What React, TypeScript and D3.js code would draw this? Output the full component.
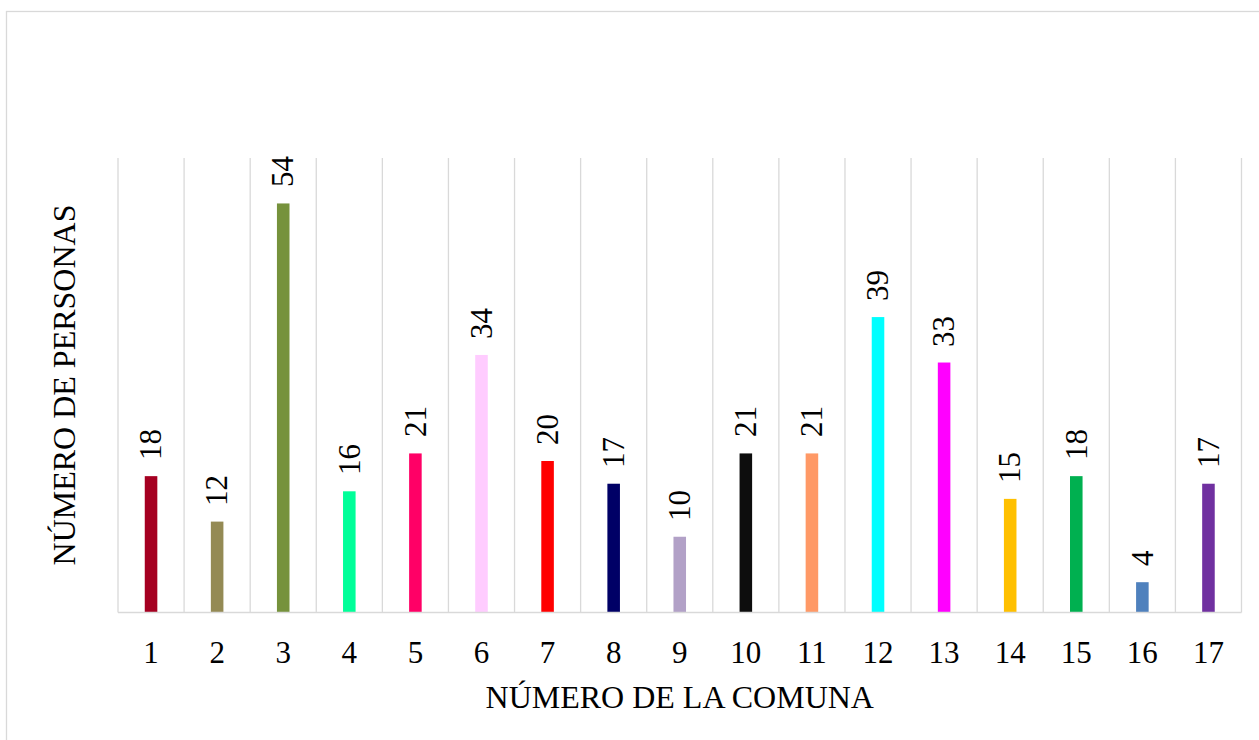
import React from "react";
import * as d3 from "d3";

// Personas por comuna
const comunas: string[] = ["1", "2", "3", "4", "5", "6", "7", "8", "9", "10", "11", "12", "13", "14", "15", "16", "17"];
const personas: number[] = [18, 12, 54, 16, 21, 34, 20, 17, 10, 21, 21, 39, 33, 15, 18, 4, 17];
const colores: string[] = [
  "#A50021", "#948A54", "#76923C", "#00FF99", "#FF0066", "#FFCCFF", "#FF0000", "#000066",
  "#B2A1C7", "#0D0D0D", "#FF9966", "#00FFFF", "#FF00FF", "#FFC000", "#00B050", "#4F81BD", "#7030A0",
];
const yDomain: [number, number] = [0, 60];
const xTitle = "NÚMERO DE LA COMUNA";
const yTitle = "NÚMERO DE PERSONAS";

const W = 1259;
const H = 740;
const plot = { left: 118, right: 1241.5, top: 158, bottom: 612.5 };
const FONT = "'Liberation Serif', 'Times New Roman', serif";
const FS = 31;
const FS_TITLE = 32;
const GRID = "#d9d9d9";

export default function App() {
  const x = d3.scaleBand<string>().domain(comunas).range([plot.left, plot.right]).paddingInner(0).paddingOuter(0);
  const y = d3.scaleLinear().domain(yDomain).range([plot.bottom, plot.top]);
  const bw = x.bandwidth() * 0.19;
  const boundaries = comunas.map((c) => x(c) as number).concat([plot.right]);

  return (
    <svg
      width={W}
      height={H}
      style={{ position: "absolute", left: 0, top: 0, background: "#fff", overflow: "hidden" }}
    >
      <rect x={6.5} y={11.5} width={W + 10} height={H + 10} fill="#fff" stroke={GRID} strokeWidth={1.3} />

      {/* vertical category gridlines */}
      {boundaries.map((bx, i) => (
        <line key={"g" + i} x1={bx} x2={bx} y1={plot.top} y2={plot.bottom} stroke={GRID} strokeWidth={1.3} />
      ))}

      {/* bars */}
      {comunas.map((c, i) => {
        const cx = (x(c) as number) + x.bandwidth() / 2;
        return (
          <rect
            key={"b" + c}
            x={cx - bw / 2}
            y={y(personas[i])}
            width={bw}
            height={plot.bottom - y(personas[i])}
            fill={colores[i]}
          />
        );
      })}

      {/* baseline */}
      <line x1={plot.left} x2={plot.right} y1={plot.bottom} y2={plot.bottom} stroke={GRID} strokeWidth={1.5} />

      {/* value labels, rotated to read upward */}
      {comunas.map((c, i) => {
        const cx = Math.round((x(c) as number) + x.bandwidth() / 2 + 0.33 * FS);
        const ty = Math.round(y(personas[i]) - 16);
        return (
          <text
            key={"l" + c}
            transform={`translate(${cx},${ty}) rotate(-90)`}
            fontSize={FS}
            fontFamily={FONT}
            fill="#000"
          >
            {String(personas[i])}
          </text>
        );
      })}

      {/* tick labels */}
      {comunas.map((c) => (
        <text
          key={"t" + c}
          x={(x(c) as number) + x.bandwidth() / 2}
          y={663}
          textAnchor="middle"
          fontSize={FS}
          fontFamily={FONT}
          fill="#000"
        >
          {c}
        </text>
      ))}

      {/* axis titles */}
      <text
        x={(plot.left + plot.right) / 2}
        y={708}
        textAnchor="middle"
        fontSize={FS_TITLE}
        fontFamily={FONT}
        fill="#000"
      >
        {xTitle}
      </text>
      <text
        transform={`translate(75,${Math.round((plot.top + plot.bottom) / 2)}) rotate(-90)`}
        textAnchor="middle"
        fontSize={FS_TITLE}
        fontFamily={FONT}
        fill="#000"
      >
        {yTitle}
      </text>
    </svg>
  );
}
